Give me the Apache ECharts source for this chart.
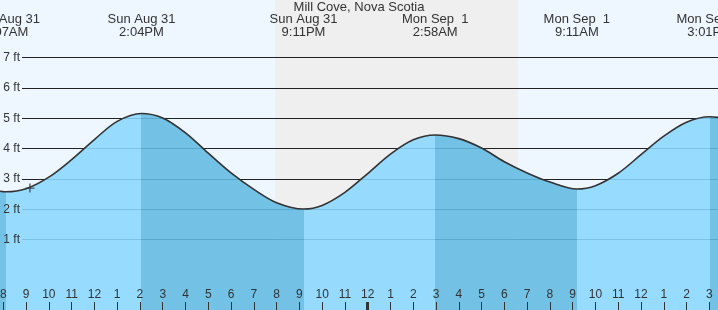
<!DOCTYPE html>
<html><head><meta charset="utf-8">
<script src="https://cdn.jsdelivr.net/npm/echarts@6/dist/echarts.min.js"></script>
<style>html,body{margin:0;padding:0;background:#eef7ff}#c{width:718px;height:310px}</style>
</head><body><div id="c"></div>
<script>
const titleText = 'Mill Cove, Nova Scotia';
// hours counted from Sun Aug 31 00:00 local
const tideHours = [7, 8, 8.117, 9, 10, 11, 12, 13, 14.067, 15, 16, 17, 18, 19, 20, 21.183, 22, 23, 24, 25, 26, 26.967, 28, 29, 30, 31, 32, 33.183, 34, 35, 36, 37, 38, 39.017, 40];
const tideFeet  = [2.68, 2.585, 2.58, 2.68, 3.06, 3.64, 4.30, 4.90, 5.16, 5.01, 4.52, 3.85, 3.20, 2.66, 2.22, 2.01, 2.13, 2.56, 3.18, 3.82, 4.29, 4.45, 4.33, 4.02, 3.57, 3.20, 2.90, 2.67, 2.78, 3.19, 3.80, 4.41, 4.87, 5.05, 4.95];
const extremeHours = [8.117, 14.067, 21.183, 26.967, 33.183, 39.017];
const extremeDays  = ['Sun Aug 31', 'Sun Aug 31', 'Sun Aug 31', 'Mon Sep  1', 'Mon Sep  1', 'Mon Sep  1'];
const extremeClock = ['8:07AM', '2:04PM', '9:11PM', '2:58AM', '9:11AM', '3:01PM'];
const hourTicks = [8, 9, 10, 11, 12, 13, 14, 15, 16, 17, 18, 19, 20, 21, 22, 23, 24, 25, 26, 27, 28, 29, 30, 31, 32, 33, 34, 35, 36, 37, 38, 39];
const midnightTicks = [24];
const feetTicks = [1, 2, 3, 4, 5, 6, 7];
const nightStart = 19.93, nightEnd = 30.60;
const nowHour = 9.17, nowFeet = 2.70;
const xMin = 7.855, xMax = 39.382;
const yMin = -1.316, yMax = 8.898;

const FONT = '"Liberation Sans", Arial, sans-serif';
const TXT = '#333';
const LIGHT = '#8ad8ff', DARK = '#62bbe3';

const pieces = [{lt: extremeHours[0], color: DARK}];
for (let i = 0; i < extremeHours.length - 1; i++) {
  pieces.push({gte: extremeHours[i], lt: extremeHours[i + 1], color: i % 2 === 0 ? LIGHT : DARK});
}
pieces.push({gte: extremeHours[extremeHours.length - 1], color: DARK});

const chart = echarts.init(document.getElementById('c'), null, {renderer: 'canvas'});
chart.setOption({
  animation: false,
  backgroundColor: '#eef7ff',
  title: {text: titleText, left: 'center', top: 1, padding: 0,
    textStyle: {fontFamily: FONT, fontSize: 13, fontWeight: 'normal', color: TXT, lineHeight: 13}},
  grid: [
    {left: 0, right: 0, top: 0, bottom: 0, containLabel: false, outerBoundsMode: 'none'},
    {left: 22, right: 0, top: 57.6, bottom: 70.3, containLabel: false, outerBoundsMode: 'none'}
  ],
  xAxis: [
    {type: 'value', gridIndex: 0, position: 'bottom', min: xMin, max: xMax, z: 5,
      axisLine: {show: false, onZero: false}, splitLine: {show: false},
      axisTick: {show: true, inside: true, length: 8, customValues: hourTicks, lineStyle: {color: TXT, width: 1}},
      axisLabel: {show: true, inside: true, margin: 9, customValues: hourTicks,
        formatter: v => String((Math.round(v) % 12) || 12),
        fontFamily: FONT, fontSize: 12, color: TXT}},
    {type: 'value', gridIndex: 1, position: 'bottom', min: xMin, max: xMax, show: false,
      axisLine: {onZero: false}},
    {type: 'value', gridIndex: 0, position: 'bottom', min: xMin, max: xMax, z: 6,
      axisLine: {show: false, onZero: false}, splitLine: {show: false},
      axisTick: {show: true, inside: true, length: 8, customValues: midnightTicks, lineStyle: {color: TXT, width: 3}},
      axisLabel: {show: false}},
    {type: 'value', gridIndex: 0, position: 'top', min: xMin, max: xMax, z: 5,
      axisLine: {show: false, onZero: false}, splitLine: {show: false}, axisTick: {show: false},
      axisLabel: {show: true, inside: true, margin: 13, customValues: extremeHours,
        formatter: v => {
          let k = 0, best = Infinity;
          extremeHours.forEach((h, i) => { if (Math.abs(h - v) < best) { best = Math.abs(h - v); k = i; } });
          return extremeDays[k] + '\n' + extremeClock[k];
        },
        fontFamily: FONT, fontSize: 13, lineHeight: 13, color: TXT, align: 'center'}}
  ],
  yAxis: [
    {type: 'value', gridIndex: 0, min: yMin, max: yMax, show: false},
    {type: 'value', gridIndex: 1, position: 'left', min: 1, max: 7, interval: 1, z: 1,
      axisLine: {show: false}, axisTick: {show: false}, axisLabel: {show: false},
      splitLine: {show: true, lineStyle: {color: '#222', width: 1}}},
    {type: 'value', gridIndex: 1, position: 'left', offset: 0, min: 1, max: 7, interval: 1, z: 5,
      axisLine: {show: false}, axisTick: {show: false}, splitLine: {show: false},
      axisLabel: {show: true, margin: 2, formatter: v => feetTicks.includes(v) ? v + ' ft' : '',
        fontFamily: FONT, fontSize: 12, color: TXT}}
  ],
  visualMap: {type: 'piecewise', show: false, dimension: 0, seriesIndex: 1, pieces: pieces},
  series: [
    {type: 'custom', xAxisIndex: 0, yAxisIndex: 0, z: 0, silent: true,
      data: [[nightStart, nightEnd]],
      renderItem: (params, api) => {
        const p0 = api.coord([api.value(0), yMax]);
        const p1 = api.coord([api.value(1), yMin]);
        return {type: 'rect', shape: {x: p0[0], y: p0[1], width: p1[0] - p0[0], height: p1[1] - p0[1]}, style: {fill: '#efefef'}};
      }},
    {type: 'line', xAxisIndex: 0, yAxisIndex: 0, z: 2, smooth: 0.33, showSymbol: false, silent: true,
      data: tideHours.map((h, i) => [h, tideFeet[i]]),
      lineStyle: {color: '#333', width: 1.6},
      areaStyle: {origin: 'start', opacity: 0.88}},
    {type: 'scatter', xAxisIndex: 0, yAxisIndex: 0, z: 4, silent: true,
      data: [[nowHour, nowFeet]],
      symbol: 'path://M0,4.5L9,4.5M4.5,0L4.5,9', symbolSize: 9,
      itemStyle: {color: 'rgba(0,0,0,0)', borderColor: '#333', borderWidth: 1.4}}
  ]
});
</script>
</body></html>
